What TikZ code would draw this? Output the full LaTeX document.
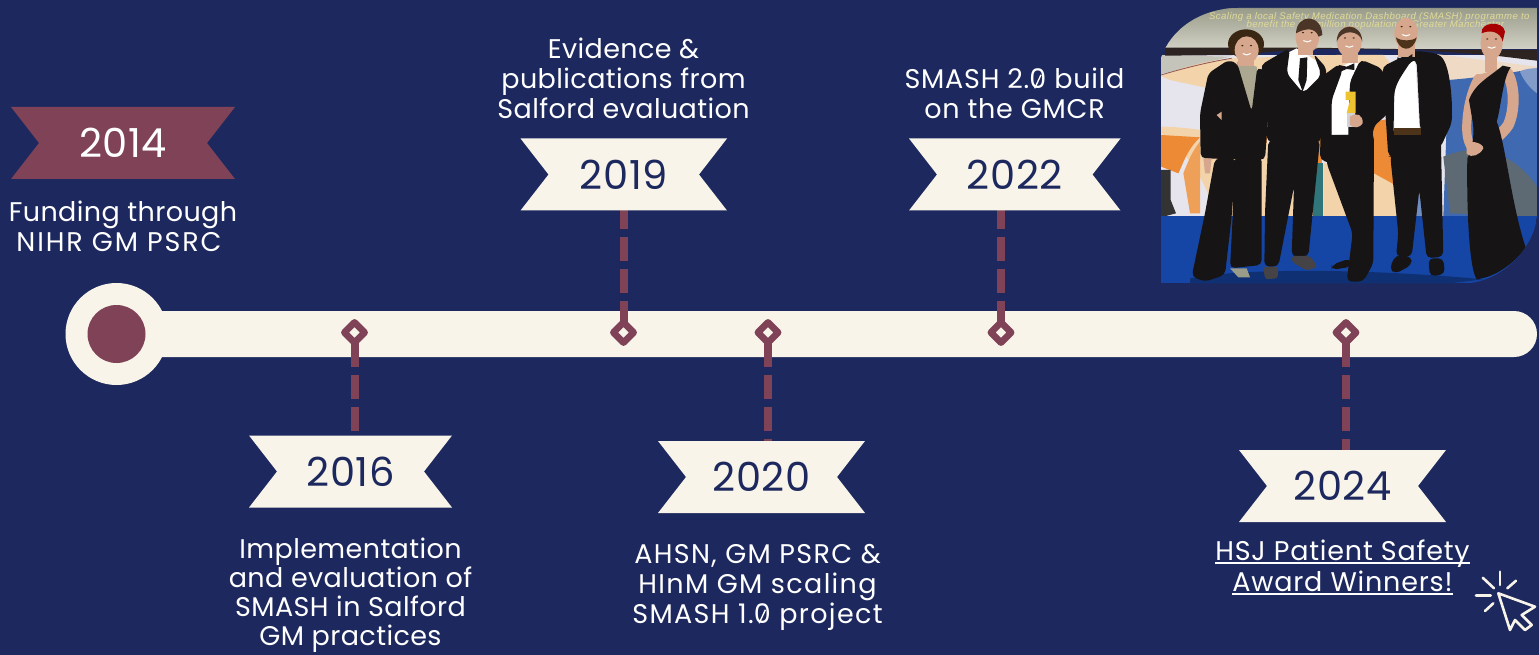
\documentclass[tikz,border=0pt]{standalone}
\usepackage{fontspec}
\setmainfont{Poppins}[LetterSpace=1.5]
\newfontfamily\photofont{Liberation Sans}[LetterSpace=4.6]
\usetikzlibrary{shapes.geometric}
\definecolor{navy}{HTML}{1D295E}
\definecolor{cream}{HTML}{F8F4E9}
\definecolor{maroon}{HTML}{7F4257}
\definecolor{skin}{HTML}{D6A78C}
\definecolor{jet}{HTML}{171416}
\definecolor{stage}{HTML}{1546A6}
\definecolor{bandtop}{HTML}{9A9C8A}
\definecolor{bandlow}{HTML}{D0D0C4}
\definecolor{darkband}{HTML}{2D2320}
\definecolor{peach}{HTML}{F3D3AA}
\definecolor{lilac}{HTML}{E6E5EE}
\definecolor{orng}{HTML}{EC8A35}
\definecolor{softblue}{HTML}{3F69B0}
\definecolor{slategrey}{HTML}{5E6A73}
\definecolor{phototext}{HTML}{E0DB96}
\definecolor{trophy}{HTML}{EDC32F}
\definecolor{hairbrown}{HTML}{4B3526}
\newcommand\sz{\leavevmode\setbox0\hbox{0}\hbox to \wd0{\hss\raisebox{.22em}{\rotatebox[origin=c]{65}{\rule{.55em}{.05em}}}\hss}\kern-\wd0 0}
\newcommand\ul[1]{\leavevmode\setbox0\hbox{#1}\rlap{\rule[-3.5pt]{\wd0}{2pt}}\box0}
\newcommand\ribbon[9]{% name,xl,xr,yt,yb,notch,fill,text,year
  \fill[#7] (#2,#4) -- (#3,#4) -- (#3-#6,{(#4+#5)/2}) -- (#3,#5) -- (#2,#5) -- (#2+#6,{(#4+#5)/2}) -- cycle;
  \node[yeartext,text=#8,minimum width={(#3-#2)*1pt},minimum height={(#5-#4)*1pt}] (#1) at ({(#2+#3)/2},{(#4+#5)/2}) {#9};
}
\newcommand\facemarks[2]{% eyes and smile around a centre, zoom units
  \fill[black!70!brown] (#1-13,#2-8) ellipse (3.5 and 2.2);
  \fill[black!70!brown] (#1+13,#2-8) ellipse (3.5 and 2.2);
  \draw[white,line width=1pt,line cap=round] (#1-11,#2+16) .. controls (#1-4,#2+21) and (#1+4,#2+21) .. (#1+11,#2+16);
}
\tikzset{
  lab/.style={text=white,align=center,inner sep=0pt,font=\fontsize{27}{30}\selectfont},
  yeartext/.style={inner sep=0pt,font=\fontsize{40}{44}\selectfont},
  stem/.style={maroon,line width=8pt,dash pattern=on 24pt off 8pt},
  mark node/.style={diamond,draw=maroon,fill=cream,line width=6.6pt,line join=round,minimum size=23pt,inner sep=0pt},
  ray/.style={cream,line width=2.6pt,line cap=round,line join=round},
  suit/.style={fill=jet,rounded corners=5pt},
  limb/.style={draw=skin,line cap=round,line join=round},
  phototxt/.style={inner sep=0pt,text=phototext,font=\photofont\itshape\fontsize{9.6}{10}\selectfont},
}
\begin{document}
\begin{tikzpicture}[x=1pt,y=-1pt]
\useasboundingbox (0,0) rectangle (1539,655);
\fill[navy] (0,0) rectangle (1539,655);

% timeline bar
\fill[cream,rounded corners=23pt] (116,311) rectangle (1537,357);
\node[circle,fill=cream,minimum size=102pt,inner sep=0pt] (start) at (116.5,334) {};
\node[circle,fill=maroon,minimum size=58pt,inner sep=0pt] (startdot) at (116.5,334) {};

% markers (coordinates)
\coordinate (m2016) at (354.5,332.5);
\coordinate (m2019) at (623.5,332.5);
\coordinate (m2020) at (768,332.5);
\coordinate (m2022) at (1001,332.5);
\coordinate (m2024) at (1346,332.5);

% ribbon anchors for stems
\coordinate (e2019) at (623.5,205);
\coordinate (e2022) at (1001,205);
\coordinate (e2016) at (354.5,440);
\coordinate (e2020) at (768,445);
\coordinate (e2024) at (1346,455);

% stems
\draw[stem] (e2019) -- (m2019);
\draw[stem,dash phase=21.8pt] (m2016) -- (e2016);
\draw[stem] (e2022) -- (m2022);
\draw[stem,dash phase=21.8pt] (m2020) -- (e2020);
\draw[stem,dash phase=21.8pt] (m2024) -- (e2024);

\node[mark node] (d2016) at (m2016) {};
\node[mark node] (d2019) at (m2019) {};
\node[mark node] (d2020) at (m2020) {};
\node[mark node] (d2022) at (m2022) {};
\node[mark node] (d2024) at (m2024) {};

% ribbons
\ribbon{y2014}{11}{235}{107}{179}{28}{maroon}{white}{2014}
\ribbon{y2019}{520.5}{727}{138.5}{210.5}{28}{cream}{navy}{2019}
\ribbon{y2022}{909}{1120.5}{138.5}{210.5}{28}{cream}{navy}{2022}
\ribbon{y2016}{249}{452}{435.5}{507.5}{28}{cream}{navy}{2016}
\ribbon{y2020}{658}{865}{441}{513}{28}{cream}{navy}{2020}
\ribbon{y2024}{1239}{1446}{450}{522}{28}{cream}{navy}{2024}

% labels
\node[lab] (t2014) at (123,226) {Funding through\\\hspace*{-8pt}{\addfontfeature{LetterSpace=7}NIHR GM PSRC}};
\node[lab] (t2019) at (623.5,78) {Evidence \&\\publications from\\Salford evaluation};
\node[lab,font=\fontsize{27}{30}\selectfont\addfontfeature{LetterSpace=2.8}] (t2022) at (1014.5,93) {SMASH 2.\sz\ build\\on the GMCR};
\node[lab,font=\fontsize{27}{29}\selectfont] (t2016) at (350.5,595.5) {Implementation\\and evaluation of\\SMASH in Salford\\GM practices};
\node[lab,font=\fontsize{27}{30}\selectfont\addfontfeature{LetterSpace=5}] (t2020) at (757.5,587) {AHSN, GM PSRC \&\\HInM GM scaling\\SMASH 1.\sz\ project};
\node[lab,font=\fontsize{27}{30}\selectfont\addfontfeature{LetterSpace=3}] (t2024) at (1342.5,567) {\ul{HSJ Patient Safety}\\[1pt]\ul{Award Winners!}};

% cursor icon
\draw[ray] (1500,571.7) -- (1500,585);
\draw[ray] (1482.7,577.7) -- (1494,588.3);
\draw[ray] (1516,580.7) -- (1507.3,588.3);
\draw[ray] (1476,595.7) -- (1490.7,595.7);
\draw[ray] (1485,611) -- (1493.3,603.3);
\draw[ray] (1498.3,593.3) -- (1535,606.7) -- (1521.7,615) -- (1531.7,625) -- (1525,630) -- (1515,620) -- (1510,630) -- cycle;

% photograph (scene in 3x zoom coordinates)
\begin{scope}[shift={(1150,0)},x=0.3333pt,y=-0.3333pt]
\clip (33,175) .. controls (60,90) and (150,24) .. (265,24) -- (1161,24) -- (1161,650) .. controls (1150,750) and (1050,850) .. (940,850) -- (33,850) -- cycle;
% backdrop
\shade[top color=bandtop,bottom color=bandlow] (33,24) rectangle (1161,145);
\fill[bandtop!70!gray] (33,24) rectangle (1161,28);
\fill[lilac] (33,165) rectangle (1161,650);
% left panels
\fill[bandlow!85!gray] (33,165) -- (240,170) -- (33,222) -- cycle;
\fill[peach] (33,228) .. controls (100,200) and (180,180) .. (245,175) -- (560,165) -- (700,165) -- (760,235) -- (500,250) -- (200,270) -- (60,240) -- cycle;
\fill[peach] (33,380) .. controls (100,380) and (200,395) .. (340,420) -- (340,650) -- (200,650) .. controls (170,560) and (130,470) .. (33,400) -- cycle;
\fill[orng] (33,405) -- (150,412) .. controls (110,450) and (100,490) .. (85,520) -- (33,500) -- cycle;
\fill[orng!70!peach] (100,520) .. controls (120,470) and (130,450) .. (150,425) -- (150,640) -- (120,640) -- cycle;
\fill[orng] (335,340) -- (352,340) -- (352,430) -- (335,430) -- cycle;
\fill[orng] (498,345) -- (515,345) -- (515,490) -- (498,490) -- cycle;
\fill[peach] (340,430) -- (495,430) -- (495,648) -- (340,648) -- cycle;
\fill[slategrey!50!teal] (490,490) -- (520,490) -- (520,648) -- (490,648) -- cycle;
\fill[peach] (520,490) -- (740,500) -- (790,648) -- (520,648) -- cycle;
\fill[orng] (672,365) -- (725,355) -- (730,552) -- (672,520) -- cycle;
\fill[softblue!70!lilac] (790,560) -- (830,560) -- (830,648) -- (790,648) -- cycle;
% right panels
\fill[peach!60!lilac] (800,155) -- (1161,200) -- (1161,240) -- (900,240) -- cycle;
\fill[softblue] (895,240) .. controls (1000,232) and (1100,215) .. (1161,205) -- (1161,650) -- (880,650) -- cycle;
\fill[softblue!60!lilac] (1110,215) .. controls (1125,205) and (1150,205) .. (1161,205) -- (1161,280) .. controls (1140,265) and (1120,240) .. (1110,215) -- cycle;
\fill[slategrey] (880,470) .. controls (1000,420) and (1100,470) .. (1161,560) -- (1161,650) -- (900,640) -- cycle;
% dark band
\fill[darkband] (45,143) -- (250,143) -- (480,143) -- (800,148) -- (1161,150) -- (1161,182) -- (1020,165) -- (800,150) -- (480,146) -- (250,165) -- (45,167) -- cycle;
\draw[maroon!70!brown,line width=0.8pt] (33,225) .. controls (100,205) and (180,185) .. (245,175);
% spotlight
\fill[black!80] (33,510) -- (62,510) -- (62,600) -- (78,640) -- (33,652) -- cycle;
% stage
\fill[stage] (33,648) rectangle (1161,850);
\fill[stage!70!black] (120,835) .. controls (300,800) and (700,810) .. (1000,838) -- (900,850) -- (120,850) -- cycle;
% backdrop text
\node[phototxt] (ph1) at (658,50) {Scaling a local Safety Medication Dashboard (SMASH) programme to};
\node[phototxt] (ph2) at (676,76) {benefit the 2.8 million population of Greater Manchester};

% woman 5
\draw[limb,line width=11pt] (1072,218) .. controls (1095,260) and (1095,330) .. (1075,375) .. controls (1055,405) and (1020,430) .. (985,448);
\draw[limb,line width=9pt] (985,235) .. controls (960,280) and (950,340) .. (950,385) .. controls (950,420) and (960,440) .. (975,455);
\fill[skin] (985,225) -- (1065,200) -- (1010,270) -- (965,285) -- cycle;
\fill[skin] (1005,150) rectangle (1040,215);
\fill[jet] (1058,197) -- (1082,202) .. controls (1058,235) and (1052,330) .. (1040,365) .. controls (1065,420) and (1085,620) .. (1128,745) .. controls (1090,790) and (1040,830) .. (980,838) .. controls (955,800) and (950,600) .. (952,475) .. controls (965,450) and (975,410) .. (968,365) -- (957,300) .. controls (975,250) and (1020,230) .. (1058,197) -- cycle;
\fill[skin] (950,430) .. controls (965,420) and (1000,430) .. (1000,445) .. controls (990,465) and (965,475) .. (950,462) -- cycle;
\fill[skin] (1025,130) ellipse (33 and 48);
\facemarks{1025}{125}
\fill[red!65!black] (995,100) .. controls (990,65) and (1060,60) .. (1065,95) -- (1058,125) .. controls (1052,95) and (1020,88) .. (995,100) -- cycle;

% man 4
\fill[white] (735,190) -- (795,165) -- (808,385) -- (733,385) -- cycle;
\fill[suit] (697,200) -- (795,152) -- (860,160) .. controls (900,190) and (908,300) .. (905,370) -- (870,445) -- (845,445) -- (810,385) -- (800,180) -- (785,180) .. controls (760,220) and (735,250) .. (732,300) -- (730,470) -- (715,470) -- cycle;
\fill[suit] (728,385) -- (872,385) -- (880,770) -- (830,775) -- (808,570) -- (785,770) -- (738,770) -- (745,700) -- (722,480) -- cycle;
\fill[suit] (738,765) -- (785,770) -- (785,795) -- (735,822) -- (718,805) -- cycle;
\fill[suit] (835,775) -- (880,775) -- (885,822) -- (840,830) -- cycle;
\fill[black!60!brown] (733,385) rectangle (812,406);
\fill[skin] (745,130) rectangle (795,170);
\fill[skin] (768,100) ellipse (35 and 47);
\facemarks{768}{88}
\fill[black!60!brown] (738,112) .. controls (745,155) and (790,160) .. (800,112) .. controls (790,124) and (750,124) .. (738,112) -- cycle;
\fill[jet] (742,172) -- (765,178) -- (787,162) -- (787,185) -- (765,182) -- (744,190) -- cycle;

% man 3
\fill[white] (545,215) -- (625,175) -- (625,400) -- (545,405) -- cycle;
\fill[suit] (515,230) -- (570,190) -- (578,210) -- (545,300) -- (545,490) -- (510,480) -- cycle;
\fill[suit] (600,245) -- (632,178) -- (695,205) .. controls (715,260) and (722,310) .. (715,340) -- (670,380) -- (672,495) -- (595,495) -- (595,380) -- cycle;
\fill[suit] (530,405) -- (672,405) -- (670,790) -- (640,845) -- (590,845) -- (608,700) -- (530,490) -- cycle;
\fill[suit] (545,795) -- (600,775) -- (605,800) -- (545,810) -- cycle;
\fill[skin] (575,145) rectangle (625,190);
\fill[skin] (598,125) ellipse (37 and 47);
\facemarks{598}{122}
\fill[hairbrown] (560,125) .. controls (562,65) and (635,65) .. (637,125) .. controls (630,90) and (575,85) .. (560,125) -- cycle;
\fill[jet] (567,195) -- (590,200) -- (613,190) -- (613,210) -- (590,207) -- (569,216) -- cycle;
\fill[trophy] (587,275) -- (617,275) -- (617,340) -- (590,340) -- (600,300) -- (587,300) -- cycle;
\fill[lilac!80!gray] (590,340) rectangle (615,380);
\fill[skin] (600,350) .. controls (620,335) and (640,345) .. (638,370) .. controls (630,385) and (610,385) .. (600,375) -- cycle;

% man 2
\fill[white] (410,160) -- (440,145) -- (510,190) -- (505,250) -- (460,280) -- (410,220) -- cycle;
\fill[suit] (332,195) -- (400,155) -- (420,145) -- (410,220) -- (460,280) -- (515,225) -- (490,160) -- (530,205) -- (515,330) -- (512,428) -- (350,425) -- (355,300) -- cycle;
\fill[jet] (450,175) -- (472,172) -- (470,240) -- (458,275) -- (445,240) -- cycle;
\fill[suit] (355,420) -- (510,420) -- (490,620) -- (475,770) -- (425,770) -- (432,560) -- (385,800) -- (343,800) -- (345,640) -- cycle;
\fill[jet!80!white,rounded corners=3pt] (425,768) -- (480,768) -- (503,800) -- (470,812) -- (425,785) -- cycle;
\fill[jet!80!white,rounded corners=3pt] (340,800) -- (385,800) -- (383,835) -- (345,838) -- cycle;
\fill[skin] (445,125) rectangle (490,165);
\fill[skin] (472,112) ellipse (35 and 47);
\facemarks{472}{106}
\fill[hairbrown] (438,100) .. controls (440,40) and (515,40) .. (517,105) -- (506,110) .. controls (495,80) and (465,85) .. (438,100) -- cycle;

% woman 1
\fill[bandtop!80!peach] (260,185) -- (320,200) -- (332,290) -- (305,345) -- (275,290) -- cycle;
\fill[suit] (235,180) -- (262,190) -- (305,335) -- (322,200) -- (345,215) -- (358,300) -- (345,480) -- (152,475) -- (150,340) -- (175,220) -- cycle;
\fill[suit] (195,475) -- (258,475) -- (245,650) -- (225,825) -- (165,845) -- (125,830) -- (165,640) -- cycle;
\fill[suit] (250,475) -- (335,470) -- (335,795) -- (240,805) -- (248,650) -- cycle;
\fill[bandtop] (240,805) -- (290,805) -- (300,832) -- (265,832) -- cycle;
\fill[skin] (160,475) -- (185,475) -- (180,520) -- (165,520) -- cycle;
\fill[skin] (200,345) -- (215,335) -- (215,360) -- cycle;
\fill[black!70!brown] (288,132) ellipse (54 and 44);
\fill[skin] (265,165) rectangle (312,198);
\fill[skin] (290,150) ellipse (36 and 41);
\facemarks{290}{145}
\end{scope}
\end{tikzpicture}
\end{document}
